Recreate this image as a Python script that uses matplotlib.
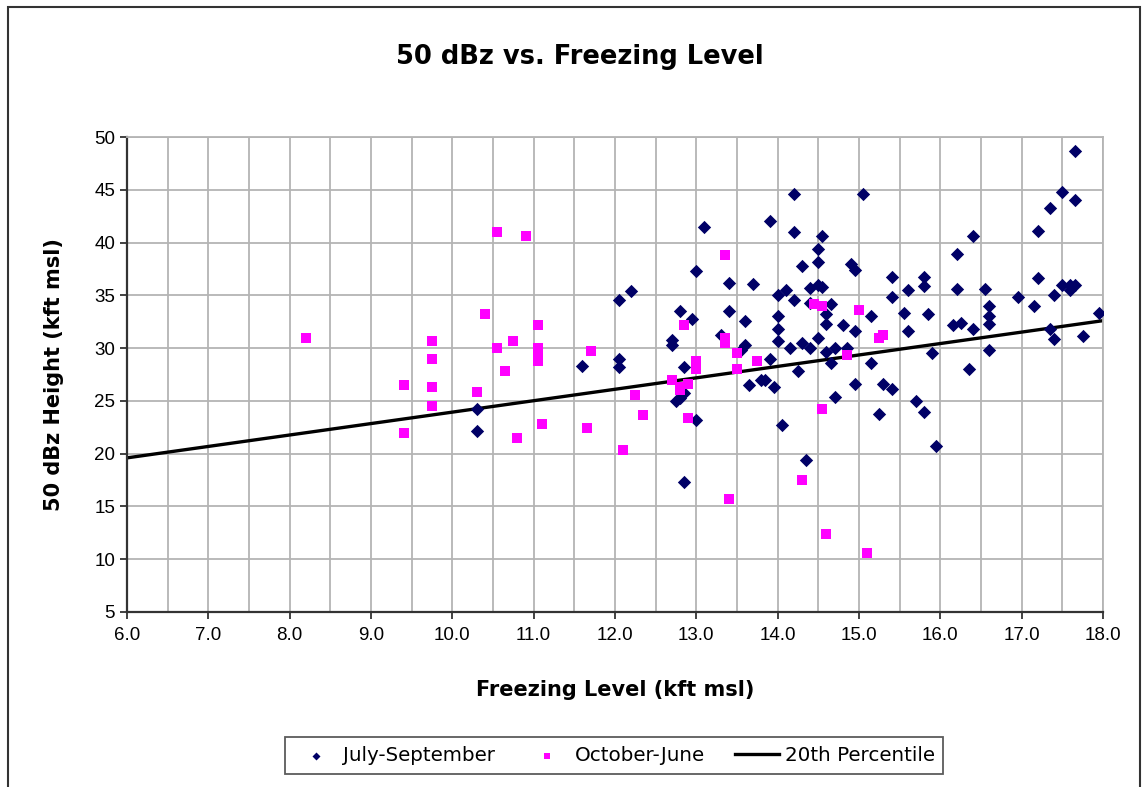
import matplotlib
matplotlib.use('Agg')
import matplotlib.pyplot as plt
import matplotlib.patches as mpatches
from matplotlib.ticker import MultipleLocator
import numpy as np

plt.rcParams['font.family'] = ['Liberation Sans', 'DejaVu Sans']
WIDE = ['DejaVu Sans']

# July-September (navy diamonds)
jul_x = [10.3, 10.3, 11.6, 12.05, 12.05, 12.05, 12.2, 12.7, 12.7, 12.75, 12.8, 12.85,
         12.8, 12.85, 12.85, 12.95, 13.0, 13.0, 13.1, 13.3, 13.4, 13.4, 13.55, 13.6,
         13.6, 13.65, 13.7, 13.8, 13.85, 13.9, 13.9, 13.95, 14.0, 14.0, 14.0, 14.0,
         14.05, 14.1, 14.15, 14.2, 14.2, 14.2, 14.25, 14.3, 14.3, 14.35, 14.4, 14.4,
         14.4, 14.5, 14.5, 14.5, 14.5, 14.55, 14.55, 14.6, 14.6, 14.6, 14.65, 14.65,
         14.7, 14.7, 14.8, 14.85, 14.9, 14.95, 14.95, 14.95, 15.05, 15.15, 15.15, 15.25,
         15.3, 15.4, 15.4, 15.4, 15.55, 15.6, 15.6, 15.7, 15.8, 15.8, 15.8, 15.85,
         15.9, 15.95, 16.15, 16.2, 16.2, 16.25, 16.4, 16.4, 16.35, 16.55, 16.6, 16.6,
         16.6, 16.6, 16.95, 17.15, 17.2, 17.2, 17.35, 17.4, 17.35, 17.4, 17.5, 17.5,
         17.6, 17.6, 17.65, 17.65, 17.65, 17.75, 17.95]
jul_y = [24.2, 22.1, 28.3, 34.6, 29.0, 28.2, 35.4, 30.8, 30.3, 25.0, 25.3, 25.7,
         33.5, 28.2, 17.3, 32.8, 37.3, 23.2, 41.5, 31.2, 36.2, 33.5, 29.8, 32.6,
         30.3, 26.5, 36.1, 27.0, 27.0, 42.0, 29.0, 26.3, 35.0, 33.0, 31.8, 30.7,
         22.7, 35.5, 30.0, 44.6, 41.0, 34.6, 27.8, 37.8, 30.5, 19.4, 35.7, 34.3,
         30.0, 39.4, 38.2, 36.0, 31.0, 40.6, 35.8, 33.2, 32.3, 29.6, 34.2, 28.6,
         25.4, 30.0, 32.2, 30.0, 38.0, 37.4, 31.6, 26.6, 44.6, 33.0, 28.6, 23.8,
         26.6, 26.1, 36.7, 34.8, 33.3, 35.5, 31.6, 25.0, 23.9, 36.7, 35.9, 33.2,
         29.5, 20.7, 32.2, 38.9, 35.6, 32.4, 40.6, 31.8, 28.0, 35.6, 34.0, 33.0,
         32.3, 29.8, 34.8, 34.0, 41.1, 36.6, 43.3, 35.0, 31.8, 30.9, 44.8, 36.0,
         35.5, 36.0, 44.0, 48.7, 36.0, 31.1, 33.3]

# October-June (magenta squares)
oct_x = [8.2, 9.4, 9.4, 9.75, 9.75, 9.75, 9.75, 10.3, 10.4, 10.55, 10.55, 10.65,
         10.75, 10.8, 10.9, 11.05, 11.05, 11.05, 11.05, 11.1, 11.65, 11.7, 12.1, 12.25,
         12.35, 12.7, 12.8, 12.8, 12.85, 12.9, 12.9, 13.0, 13.0, 13.35, 13.35, 13.35,
         13.4, 13.5, 13.5, 13.75, 14.3, 14.45, 14.55, 14.55, 14.6, 14.85, 15.0, 15.1,
         15.25, 15.3]
oct_y = [31.0, 26.5, 22.0, 30.7, 29.0, 26.3, 24.5, 25.8, 33.2, 41.0, 30.0, 27.8,
         30.7, 21.5, 40.6, 32.2, 30.0, 29.5, 28.8, 22.8, 22.4, 29.7, 20.3, 25.6,
         23.7, 27.0, 26.3, 26.0, 32.2, 26.6, 23.4, 28.8, 28.0, 38.8, 31.0, 30.5,
         15.7, 29.5, 28.0, 28.8, 17.5, 34.2, 34.0, 24.2, 12.4, 29.3, 33.6, 10.6,
         31.0, 31.2]

# 20th percentile line end points
pct_x = [6.0, 18.0]
pct_y = [19.6, 32.6]

fig = plt.figure(figsize=(11.48, 7.87), dpi=100)
ax = fig.add_axes([0.1106, 0.2224, 0.8502, 0.6035])

ax.plot(pct_x, pct_y, color='black', lw=2.4, zorder=2, label='20th Percentile')
ax.scatter(jul_x, jul_y, marker='D', s=46, color='#000066', lw=0, zorder=3,
           label='July-September')
ax.scatter(oct_x, oct_y, marker='s', s=62, color='#ff00ff', lw=0, zorder=3,
           label='October-June')

ax.set_xlim(6, 18)
ax.set_ylim(5, 50)
ax.xaxis.set_major_locator(MultipleLocator(1.0))
ax.xaxis.set_minor_locator(MultipleLocator(0.5))
ax.yaxis.set_major_locator(MultipleLocator(5))
ax.xaxis.set_major_formatter(plt.FuncFormatter(lambda v, p: f'{v:.1f}'))
ax.grid(True, which='both', axis='x', color='#b4b4b4', lw=1.3)
ax.grid(True, which='major', axis='y', color='#b4b4b4', lw=1.3)
ax.set_axisbelow(True)
ax.tick_params(axis='both', which='major', labelsize=13.5, length=5, width=1.3,
               direction='out', color='#333333')
ax.tick_params(axis='x', which='minor', length=0)
ax.tick_params(axis='x', pad=6)
for s in ['left', 'bottom']:
    ax.spines[s].set_color('#333333')
    ax.spines[s].set_linewidth(1.6)
for s in ['top', 'right']:
    ax.spines[s].set_color('#b4b4b4')
    ax.spines[s].set_linewidth(1.3)

ax.set_xlabel('Freezing Level (kft msl)', fontsize=15, fontweight='bold',
              labelpad=26, family=WIDE)
ax.set_ylabel('50 dBz Height (kft msl)', fontsize=15, fontweight='bold',
              labelpad=22, family=WIDE)
fig.text(0.505, 0.927, '50 dBz vs. Freezing Level', ha='center', va='center',
         fontsize=18.5, fontweight='bold', family=WIDE)

h, l = ax.get_legend_handles_labels()
order = [1, 2, 0]
leg = fig.legend([h[i] for i in order], [l[i] for i in order], loc='center',
                 bbox_to_anchor=(0.535, 0.04), ncol=3, frameon=True,
                 prop={'family': WIDE, 'size': 14.3},
                 fancybox=False, edgecolor='#333333', handlelength=2.2,
                 columnspacing=1.5, handletextpad=0.3, borderpad=0.45,
                 markerscale=0.6)
leg.get_frame().set_linewidth(1.3)

# outer chart border
fig.patches.append(mpatches.Rectangle((8 / 1148, -0.01), 1132 / 1148, 1 - 7 / 787 + 0.01,
                                      transform=fig.transFigure, fill=False,
                                      edgecolor='#333333', lw=1.5))

fig.savefig('out.png', dpi=100)
